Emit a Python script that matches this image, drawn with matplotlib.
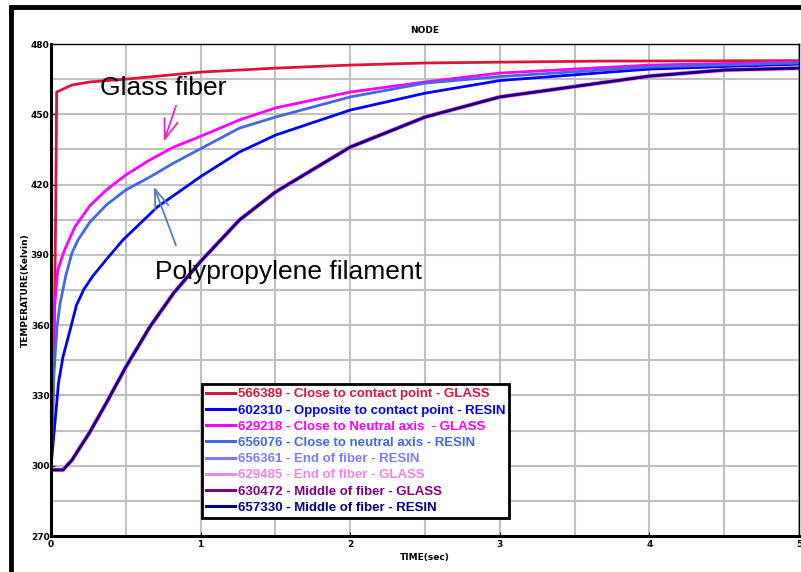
import matplotlib
matplotlib.use("Agg")
import matplotlib.pyplot as plt
from matplotlib.lines import Line2D

# time (sec) and temperature (Kelvin)
t_red = [0, 0.01, 0.02, 0.03, 0.038, 0.14, 0.26, 0.5, 1.0, 1.5, 2.0, 2.5, 3.67, 5.0]
temp_red = [300, 318, 345, 400, 459.5, 462.5, 463.8, 465.0, 468.0, 469.7, 471.0, 471.9, 472.7, 472.9]

t_mag = [0, 0.01, 0.02, 0.045, 0.09, 0.16, 0.26, 0.37, 0.5, 0.66, 0.82, 1.0, 1.26, 1.5,
         2.0, 2.5, 3.0, 4.0, 5.0]
temp_mag = [300, 340, 365, 383.5, 392, 402, 411, 417.7, 424.1, 430.5, 436, 440.6, 447.6, 452.7,
            459.5, 463.8, 467.6, 471.0, 472.3]

t_roy = [0, 0.02, 0.04, 0.06, 0.1, 0.14, 0.18, 0.26, 0.37, 0.5, 0.66, 0.82, 1.0, 1.26, 1.5,
         2.0, 2.5, 3.0, 4.0, 5.0]
temp_roy = [300, 340, 359.2, 369, 381.4, 390.8, 396.3, 404, 411.3, 417.7, 423.2, 429.2, 435.3,
            444.1, 448.8, 457.4, 463.3, 466.1, 470.2, 471.9]

t_blue = [0, 0.01, 0.03, 0.05, 0.08, 0.13, 0.17, 0.22, 0.28, 0.37, 0.48, 0.71, 1.0, 1.26,
          1.5, 2.0, 2.5, 3.0, 4.0, 5.0]
temp_blue = [300, 306.7, 320.8, 335.3, 346.4, 358.5, 368.5, 375.3, 381, 388, 396.3, 410.4,
             423.4, 433.9, 441.1, 451.8, 459.0, 464.4, 469.3, 471.4]

t_mid = [0, 0.08, 0.14, 0.26, 0.37, 0.5, 0.66, 0.82, 1.0, 1.26, 1.5, 2.0, 2.5, 3.0, 4.0,
         4.5, 5.0]
temp_mid = [298.2, 298.2, 302.4, 314.4, 326.8, 342.1, 359.2, 373.7, 387.2, 404.9, 416.8, 436.0,
            448.8, 457.4, 466.3, 468.9, 469.7]

labels = [
    "566389 - Close to contact point - GLASS",
    "602310 - Opposite to contact point - RESIN",
    "629218 - Close to Neutral axis  - GLASS",
    "656076 - Close to neutral axis - RESIN",
    "656361 - End of fiber - RESIN",
    "629485 - End of fiber - GLASS",
    "630472 - Middle of fiber - GLASS",
    "657330 - Middle of fiber - RESIN",
]
colors = ["#DC143C", "#0000FF", "#FF00FF", "#4169E1", "#7B7BFF", "#EE82EE", "#800080", "#000080"]

fig = plt.figure(figsize=(8.01, 5.72), dpi=100)
ax = fig.add_axes([51 / 801, 36 / 572, 748 / 801, 492 / 572])

series = [(t_red, temp_red), (t_blue, temp_blue), (t_mag, temp_mag), (t_roy, temp_roy),
          (t_mid, temp_mid), (t_mid, temp_mid), (t_mid, temp_mid), (t_mid, temp_mid)]
widths = [2.0, 2.0, 2.0, 2.0, 2.0, 3.2, 2.2, 1.6]
handles = []
for (tx, ty), c, lw, lab in zip(series, colors, widths, labels):
    ln, = ax.plot(tx, ty, color=c, lw=lw, label=lab)
    handles.append(ln)

ax.set_xlim(0, 5)
ax.set_ylim(270, 480)
ax.set_xticks([0, 1, 2, 3, 4, 5])
ax.set_xticks([0.5, 1.5, 2.5, 3.5, 4.5], minor=True)
ax.set_yticks(range(270, 481, 30))
ax.set_yticks(range(285, 480, 30), minor=True)
ax.grid(True, which="both", color="#C0C0C0", lw=1.5, zorder=0)
ax.set_axisbelow(True)
ax.tick_params(which="both", direction="in", length=3, labelsize=6.5, pad=3)
ax.tick_params(axis="y", pad=1)
ax.tick_params(which="minor", length=0)
for lab in ax.get_xticklabels() + ax.get_yticklabels():
    lab.set_fontweight("bold")
ax.spines["bottom"].set_linewidth(2.2)
ax.spines["left"].set_linewidth(2.2)
ax.spines["top"].set_linewidth(1.0)
ax.spines["right"].set_linewidth(1.0)

ax.set_title("NODE", fontsize=6.5, fontweight="bold", pad=8)
ax.set_xlabel("TIME(sec)", fontsize=6.5, fontweight="bold", labelpad=3)
ax.set_ylabel("TEMPERATURE(Kelvin)", fontsize=6.5, fontweight="bold", labelpad=1)

leg = ax.legend(handles=handles, loc="lower left", bbox_to_anchor=(0.202, 0.037),
                prop={"family": "Liberation Sans", "weight": "bold", "size": 9.5},
                labelcolor="linecolor", fancybox=False, framealpha=1,
                edgecolor="black", handlelength=2.2, handletextpad=0.2,
                labelspacing=0.3, borderpad=0.3, borderaxespad=0)
leg.get_frame().set_linewidth(2)
for ln in leg.get_lines():
    ln.set_linewidth(2.2)

# annotations
ax.text(0.327, 461.2, "Glass fiber", fontsize=19, family="Liberation Sans", va="center")
ax.annotate("", xy=(0.749, 437.3), xytext=(0.842, 454.8),
            arrowprops=dict(arrowstyle="->,head_length=1.4,head_width=0.5",
                            color="#F020C8", lw=1.3))
ax.text(0.695, 382.7, "Polypropylene filament", fontsize=19, family="Liberation Sans",
        va="center")
ax.annotate("", xy=(0.682, 420.2), xytext=(0.842, 392.9),
            arrowprops=dict(arrowstyle="->,head_length=1.4,head_width=0.5",
                            color="#4F81BD", lw=1.3))

# thick frame on the left and top of the picture
fig.add_artist(Line2D([11 / 801, 11 / 801], [0, 1 - 5 / 572], color="black", lw=3.5,
                      solid_capstyle="butt"))
fig.add_artist(Line2D([9 / 801, 1], [1 - 7 / 572, 1 - 7 / 572], color="black", lw=3.5,
                      solid_capstyle="butt"))

plt.savefig("out.png", dpi=100)
